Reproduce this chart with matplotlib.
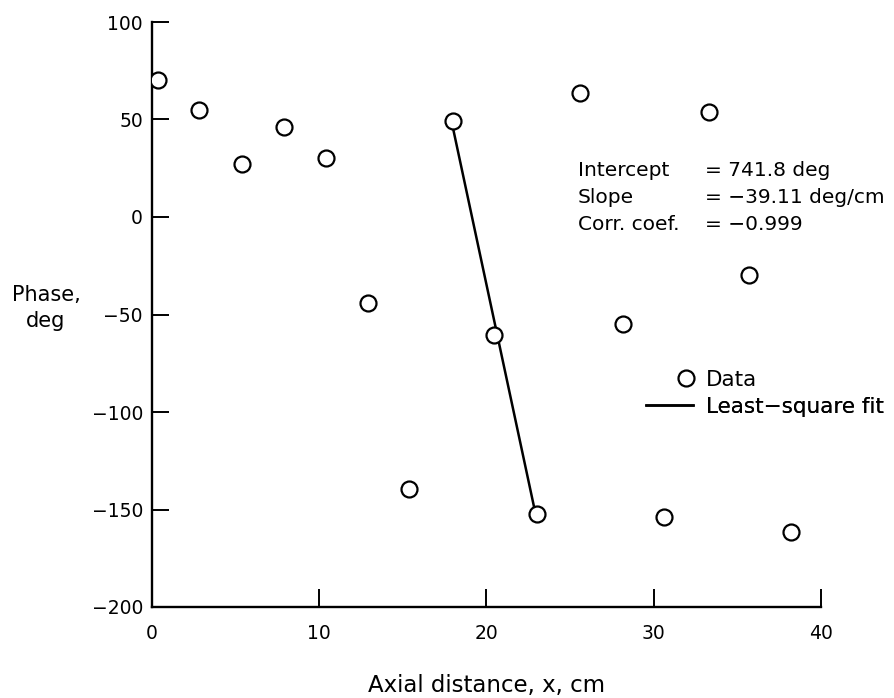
import numpy as np
import matplotlib
matplotlib.use("Agg")
import matplotlib.pyplot as plt
from matplotlib.lines import Line2D

# ---- data ----
x_cm = [0.38, 2.83, 5.36, 7.87, 10.4, 12.89, 15.38, 18.01, 20.44, 23.03,
        25.58, 28.17, 30.62, 33.29, 35.67, 38.23]
phase_deg = [70.4, 54.8, 27.4, 46.4, 30.1, -44.3, -139.3, 49.3, -60.6, -152.2,
             63.5, -54.8, -154.1, 54.1, -29.9, -161.3]
fit_idx = [7, 8, 9]
x_ticks = [0, 10, 20, 30, 40]
y_ticks = [-200, -150, -100, -50, 0, 50, 100]
stats_labels = ["Intercept", "Slope", "Corr. coef."]
stats_values = ["= 741.8 deg", "= \u221239.11 deg/cm", "= \u22120.999"]

plt.rcParams['font.family'] = ['DejaVu Sans']
plt.rcParams['axes.unicode_minus'] = True
FS_TICK = 13.5
FS_STAT = 14.5
FS_LEG = 15.5
FS_XLAB = 16.5
FS_YLAB = 15

fig = plt.figure(figsize=(8.95, 6.98), dpi=100)
ax = fig.add_axes([152/895, 1-607/698, (821-152)/895, (607-22)/698])

xf = np.array([x_cm[i] for i in fit_idx])
yf = np.array([phase_deg[i] for i in fit_idx])
coef = np.polyfit(xf, yf, 1)
xl = np.array([xf.min(), xf.max()])
ax.plot(xl, np.polyval(coef, xl), color='black', lw=1.8, zorder=2)
ax.plot(x_cm, phase_deg, linestyle='none', marker='o', ms=11.5, mfc='white',
        mec='black', mew=1.6, zorder=3)

ax.set_xlim(0, 40)
ax.set_ylim(-200, 100)
ax.set_xticks(x_ticks)
ax.set_yticks(y_ticks)
ax.set_yticklabels([str(v).replace('-', '\u2212') for v in y_ticks])
for s in ['top', 'right']:
    ax.spines[s].set_visible(False)
for s in ['left', 'bottom']:
    ax.spines[s].set_linewidth(1.7)
ax.tick_params(axis='x', direction='in', length=13, width=1.4, pad=12, labelsize=FS_TICK)
ax.tick_params(axis='y', direction='in', length=12, width=1.4, pad=6.5, labelsize=FS_TICK)

# stats text
def px2data(px, py):
    return (px - 152) / (669/40), (217.7 - py) / (584/300)

for i, (lab, val) in enumerate(zip(stats_labels, stats_values)):
    yb = 177 + i * 26.7
    x0, y0 = px2data(578, yb)
    x1, y1 = px2data(705, yb)
    ax.text(x0, y0, lab, fontsize=FS_STAT, ha='left', va='baseline')
    ax.text(x1, y1, val, fontsize=FS_STAT, ha='left', va='baseline')

# legends
em = FS_LEG * 100 / 72
h_data = Line2D([], [], linestyle='none', marker='o', ms=11.5, mfc='white',
                mec='black', mew=1.6)
h_fit = Line2D([], [], color='black', lw=1.8)
pad = 0.6
hl1 = 15 / em
hl2 = 47 / em
for handle, label, hl, yc in [(h_data, 'Data', hl1, 380), (h_fit, 'Least\u2212square fit', hl2, 407)]:
    left_px = 706 - pad * em - hl * em
    leg = ax.legend([handle], [label], loc='center left',
                    bbox_to_anchor=(left_px / 895, 1 - yc / 698),
                    bbox_transform=fig.transFigure, frameon=False,
                    borderpad=0, borderaxespad=0, handletextpad=pad,
                    handlelength=hl, fontsize=FS_LEG, numpoints=1)
    ax.add_artist(leg)

fig.text(487 / 895, 1 - 692 / 698, 'Axial distance, x, cm', fontsize=FS_XLAB,
         ha='center', va='baseline')
fig.text(46 / 895, 1 - 285 / 698, 'Phase,\ndeg', fontsize=FS_YLAB, ha='center',
         va='top', multialignment='center', linespacing=1.4)

fig.savefig('out.png', dpi=100)
